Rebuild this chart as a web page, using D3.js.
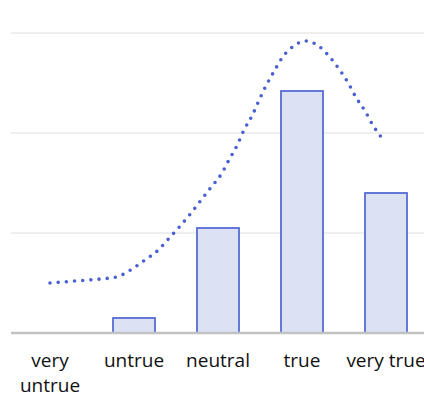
<!DOCTYPE html>
<html>
<head>
<meta charset="utf-8">
<script src="https://cdn.jsdelivr.net/npm/d3@7"></script>
<style>
  body { margin: 0; background: #fff; }
  svg { display: block; }
  .tick-label { font-family: "Open Sans", sans-serif; font-size: 19px; fill: #111; }
</style>
</head>
<body>
<div id="chart"></div>
<script>
// categories and bar values
const categories = ["very untrue", "untrue", "neutral", "true", "very true"];
const barValues = [0, 0.15, 1.05, 2.42, 1.40];

// dotted smooth curve (position in category units, value)
const curvePos = [0, 0.30, 0.60, 0.79, 0.96, 1.13, 1.29, 1.42, 1.55, 1.68, 1.80, 1.92, 2.04, 2.13,
  2.23, 2.31, 2.41, 2.49, 2.57, 2.67, 2.77, 2.92, 3.04, 3.18, 3.32, 3.44, 3.55, 3.64, 3.75, 3.85, 3.96];
const curveVals = [0.50, 0.52, 0.54, 0.56, 0.63, 0.73, 0.83, 0.95, 1.07, 1.20, 1.33, 1.46, 1.59, 1.73,
  1.88, 2.03, 2.18, 2.33, 2.47, 2.62, 2.76, 2.88, 2.92, 2.88, 2.77, 2.64, 2.50, 2.36, 2.22, 2.07, 1.94];

const gridValues = [1, 2, 3];

const width = 424, height = 397;
const margin = { left: 11, bottom: 333, top: 33 };

const svg = d3.select("#chart").append("svg")
  .attr("width", width)
  .attr("height", height);

const x = d3.scaleBand()
  .domain(categories)
  .range([8, 428])
  .paddingInner(0.5)
  .paddingOuter(0.25);

const y = d3.scaleLinear()
  .domain([0, 3])
  .range([margin.bottom, margin.top]);

// index -> band centre
const xi = d3.scaleLinear()
  .domain([0, categories.length - 1])
  .range([x(categories[0]) + x.bandwidth() / 2, x(categories[categories.length - 1]) + x.bandwidth() / 2]);

// gridlines
svg.append("g")
  .selectAll("line")
  .data(gridValues)
  .join("line")
  .attr("x1", margin.left)
  .attr("x2", width)
  .attr("y1", d => y(d))
  .attr("y2", d => y(d))
  .attr("stroke", "#efefef")
  .attr("stroke-width", 2);

// bars
svg.append("g")
  .selectAll("rect")
  .data(categories.map((c, i) => ({ c, v: barValues[i] })).filter(d => d.v > 0))
  .join("rect")
  .attr("x", d => x(d.c))
  .attr("y", d => y(d.v))
  .attr("width", x.bandwidth())
  .attr("height", d => y(0) - y(d.v))
  .attr("fill", "#dde1f4")
  .attr("stroke", "#566cd6")
  .attr("stroke-width", 1.8);

// baseline
svg.append("line")
  .attr("x1", margin.left)
  .attr("x2", width)
  .attr("y1", y(0))
  .attr("y2", y(0))
  .attr("stroke", "#c2c2c2")
  .attr("stroke-width", 2.5);

// dotted curve
const line = d3.line()
  .x(d => xi(d[0]))
  .y(d => y(d[1]))
  .curve(d3.curveMonotoneX);

svg.append("path")
  .datum(curvePos.map((p, i) => [p, curveVals[i]]))
  .attr("d", line)
  .attr("fill", "none")
  .attr("stroke", "#4a60d0")
  .attr("stroke-width", 3.6)
  .attr("stroke-linecap", "round")
  .attr("stroke-dasharray", "0 8.2");

// x labels, wrapped when wider than the band step
const labels = svg.append("g")
  .selectAll("text")
  .data(categories)
  .join("text")
  .attr("class", "tick-label")
  .attr("text-anchor", "middle")
  .attr("x", d => x(d) + x.bandwidth() / 2)
  .attr("y", 367);

labels.each(function(d) {
  const t = d3.select(this);
  const words = d.split(" ");
  t.text(d);
  if (this.getComputedTextLength() > 92 && words.length > 1) {
    t.text(null);
    words.forEach((w, i) => {
      t.append("tspan")
        .attr("x", t.attr("x"))
        .attr("dy", i === 0 ? 0 : 25)
        .text(w);
    });
  }
});
</script>
</body>
</html>
